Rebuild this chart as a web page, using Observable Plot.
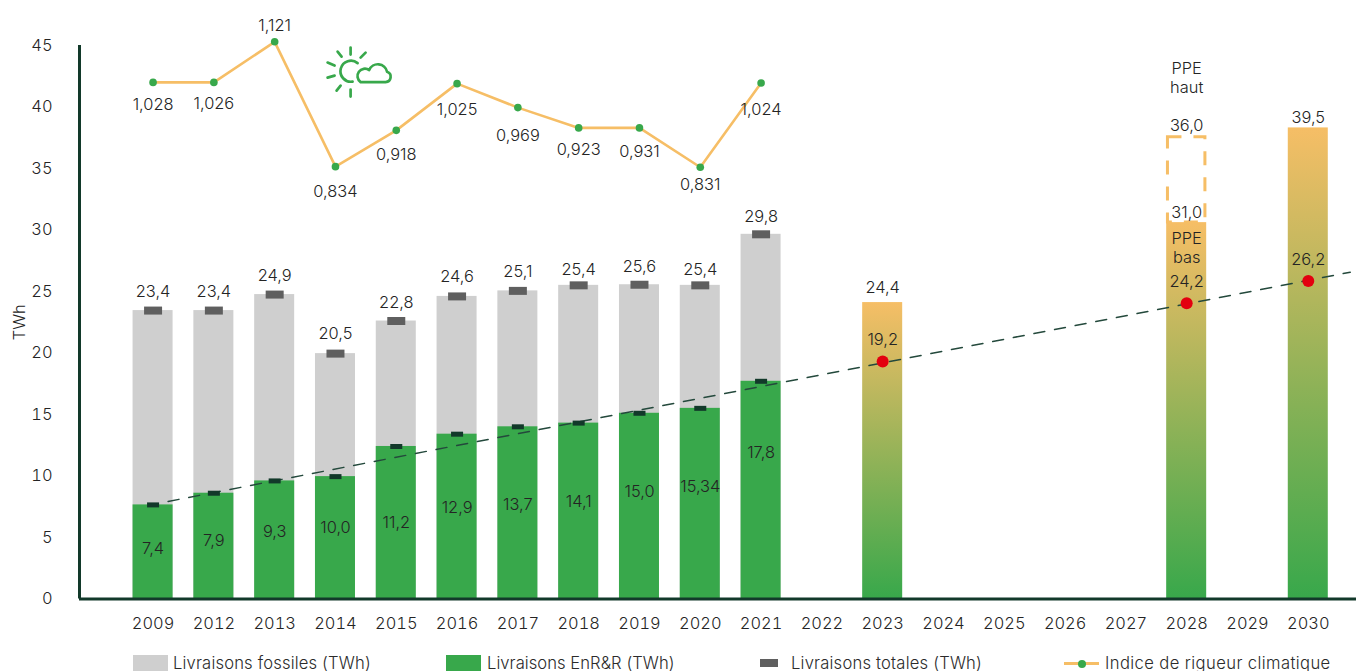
<!DOCTYPE html>
<html lang="fr">
<head>
<meta charset="utf-8">
<script src="https://cdn.jsdelivr.net/npm/d3@7"></script>
<script src="https://cdn.jsdelivr.net/npm/@observablehq/plot@0.6"></script>
<style>
html,body{margin:0;padding:0;background:#fff;overflow:hidden;width:1356px;height:671px}
#chart svg{display:block;font-family:Inter,sans-serif;font-weight:300}
#legend{position:relative;height:21px;font:300 16.6px Inter,sans-serif;color:#2b2b2b}
#legend div{position:absolute;top:0;white-space:nowrap;line-height:21px}
#legend i{position:absolute;display:block}
</style>
</head>
<body>
<div id="chart"></div>
<div id="legend"></div>
<script>
const years = [2009,2012,2013,2014,2015,2016,2017,2018,2019,2020,2021,2022,2023,2024,2025,2026,2027,2028,2029,2030];

// Historic stacked bars, as drawn
const histYears = [2009,2012,2013,2014,2015,2016,2017,2018,2019,2020,2021];
const totalHeights = [23.45,23.45,24.75,19.95,22.6,24.6,25.05,25.5,25.55,25.5,29.65];
const greenHeights = [7.65,8.6,9.6,9.95,12.4,13.4,14.0,14.3,15.1,15.5,17.7];
const totalLabels = ["23,4","23,4","24,9","20,5","22,8","24,6","25,1","25,4","25,6","25,4","29,8"];
const greenLabels = ["7,4","7,9","9,3","10,0","11,2","12,9","13,7","14,1","15,0","15,34","17,8"];

// Climate index, placed on the TWh axis as in the picture
const indexHeights = [42,42,45.3,35.15,38.1,41.9,39.95,38.3,38.3,35.1,41.95];
const indexLabels = ["1,028","1,026","1,121","0,834","0,918","1,025","0,969","0,923","0,931","0,831","1,024"];

// Targets
const targetYears = [2023,2028,2030];
const targetHeights = [24.1,30.6,38.3];
const targetTop = ["24,4","31,0","39,5"];
const pointHeights = [19.3,24.05,25.85];
const pointLabels = ["19,2","24,2","26,2"];
const ppeHighTop = 37.55;
const trendIdx = [0.247,19.69];
const trendVal = [7.93,26.57];

// Label anchors on the y axis
const totalAnchor = [24.94,24.94,26.3,21.6,24.1,26.16,26.57,26.73,27.05,26.73,31.1];
const greenAnchor = [4.1,4.7,5.5,5.8,6.2,7.4,7.7,7.9,8.75,9.15,11.9];
const indexAnchor = [40.15,40.3,46.6,33.1,36.1,39.75,37.7,36.5,36.33,33.7,39.75];
const topAnchor = [25.27,31.37,39.1];
const pointAnchor = [21.1,25.83,27.6];

const idx = y => years.indexOf(y);
const hist = histYears.map((y,i)=>({i:idx(y),total:totalHeights[i],green:greenHeights[i],tl:totalLabels[i],gl:greenLabels[i],
  iv:indexHeights[i],il:indexLabels[i],ta:totalAnchor[i],ga:greenAnchor[i],ia:indexAnchor[i]}));
const targets = targetYears.map((y,i)=>({i:idx(y),v:targetHeights[i],tl:targetTop[i],ta:topAnchor[i],p:pointHeights[i],pl:pointLabels[i],pa:pointAnchor[i]}));
const trend = trendIdx.map((x,i)=>({x,y:trendVal[i]}));
const ppeI = idx(2028);

const HW = 0.329, GREY="#cfcfcf", GREEN="#38a84b", ORANGE="#f6be66", DARK="#12392a", INK="#242424", RED="#e3000f";
const textBase = {fill:INK, fontSize:16.4, textAnchor:"middle", lineAnchor:"middle"};
const ns="http://www.w3.org/2000/svg";

function defs(){
  const d=document.createElementNS(ns,"defs");
  d.innerHTML=`<linearGradient id="grad" x1="0" y1="0" x2="0" y2="1"><stop offset="0" stop-color="${ORANGE}"/><stop offset="1" stop-color="${GREEN}"/></linearGradient>`;
  return d;
}
function icon(index,scales){
  const g=document.createElementNS(ns,"g");
  g.setAttribute("transform",`translate(${scales.x(2.747)},${scales.y(45.44)})`);
  g.setAttribute("fill","none");g.setAttribute("stroke",GREEN);g.setAttribute("stroke-width","2.7");g.setAttribute("stroke-linecap","round");
  g.innerHTML=`<path d="M31,8V15M18,12L22,17M8,23L15,26M8,38L15,36M17,51L21,46M31,50V57M41,18L46,13"/>
  <path d="M38,23.5A10.5,10.5 0 1 0 33,42"/>
  <path d="M41,42.5H66A5.3,5.3 0 0 0 67.5,32.2A9.4,9.4 0 0 0 49.6,30.5A6.8,6.8 0 0 0 41,42.5Z" stroke-linejoin="round"/>`;
  return g;
}

const plot = Plot.plot({
  width:1356, height:650,
  marginLeft:79, marginRight:0, marginTop:45, marginBottom:51.5,
  x:{type:"linear", domain:[-1.21,19.793], range:[79,1356]},
  y:{domain:[0,45], range:[598.5,45]},
  style:{background:"#fff",overflow:"visible"},
  marks:[
    defs,
    Plot.rectY(hist,{x1:d=>d.i-HW,x2:d=>d.i+HW,y1:0,y2:"total",fill:GREY}),
    Plot.rectY(hist,{x1:d=>d.i-HW,x2:d=>d.i+HW,y1:0,y2:"green",fill:GREEN}),
    Plot.rectY(targets,{x1:d=>d.i-HW,x2:d=>d.i+HW,y1:0,y2:"v",fill:"url(#grad)"}),
    Plot.rectY([{i:ppeI}],{x1:d=>d.i-0.308,x2:d=>d.i+0.308,y1:targetHeights[1],y2:ppeHighTop,fill:"none",stroke:ORANGE,strokeWidth:3,strokeDasharray:"14,12"}),
    Plot.line(trend,{x:"x",y:"y",stroke:"#24493c",strokeWidth:1.5,strokeDasharray:"11,10"}),
    Plot.link(hist,{x1:d=>d.i-0.148,x2:d=>d.i+0.148,y1:"total",y2:"total",stroke:"#5f5f5f",strokeWidth:8,strokeLinecap:"butt"}),
    Plot.link(hist,{x1:d=>d.i-0.099,x2:d=>d.i+0.099,y1:"green",y2:"green",stroke:DARK,strokeWidth:5,strokeLinecap:"butt"}),
    Plot.dot(targets,{x:"i",y:"p",r:6,fill:RED,stroke:"none"}),
    Plot.line(hist,{x:"i",y:"iv",stroke:ORANGE,strokeWidth:2.6}),
    Plot.dot(hist,{x:"i",y:"iv",r:3.8,fill:GREEN,stroke:"none"}),
    icon,
    Plot.text(hist,{...textBase,x:"i",y:"ta",text:"tl"}),
    Plot.text(hist,{...textBase,x:"i",y:"ga",text:"gl"}),
    Plot.text(hist,{...textBase,x:"i",y:"ia",text:"il"}),
    Plot.text(targets,{...textBase,x:"i",y:"ta",text:"tl"}),
    Plot.text(targets,{...textBase,x:"i",y:"pa",text:"pl"}),
    Plot.text([{i:ppeI}],{...textBase,x:"i",y:()=>38.5,text:()=>"36,0"}),
    Plot.text([{i:ppeI}],{...textBase,x:"i",y:()=>42.4,text:()=>"PPE\nhaut",lineHeight:1.16}),
    Plot.text([{i:ppeI}],{...textBase,x:"i",y:()=>28.6,text:()=>"PPE\nbas",lineHeight:1.16}),
    Plot.axisY({ticks:d3.range(0,46,5),tickSize:0,tickPadding:27,fontSize:16.4,label:"TWh",labelAnchor:"center",labelArrow:"none",labelOffset:66,color:INK}),
    Plot.axisX({ticks:years.map((_,i)=>i),tickFormat:i=>String(years[i]),tickSize:0,tickPadding:18,fontSize:16.4,label:null,color:INK}),
    Plot.ruleY([0],{stroke:DARK,strokeWidth:3}),
    Plot.ruleX([-1.21],{y1:0,y2:45,stroke:DARK,strokeWidth:3})
  ]
});
document.getElementById("chart").appendChild(plot);

const legend=document.getElementById("legend");
const items=[
 {t:"Livraisons fossiles (TWh)",x:173,ls:0.17,s:`left:133px;top:5px;width:35px;height:16px;background:${GREY}`},
 {t:"Livraisons EnR&R (TWh)",x:487,ls:0.05,s:`left:446px;top:5px;width:35px;height:16px;background:${GREEN}`},
 {t:"Livraisons totales (TWh)",x:791,ls:0.2,s:`left:760px;top:9px;width:18px;height:8px;background:#5f5f5f`},
 {t:"Indice de rigueur climatique",x:1105,ls:0.4,s:`left:1064px;top:12px;width:35px;height:3px;background:${ORANGE}`}
];
items.forEach(it=>{
  const sw=document.createElement("i");sw.style.cssText=it.s;legend.appendChild(sw);
  const l=document.createElement("div");l.style.left=it.x+"px";l.style.top="3px";l.style.letterSpacing=it.ls+"px";l.textContent=it.t;legend.appendChild(l);
});
const dot=document.createElement("i");dot.style.cssText=`left:1077.5px;top:9.5px;width:8px;height:8px;border-radius:50%;background:${GREEN}`;legend.appendChild(dot);
</script>
</body>
</html>
